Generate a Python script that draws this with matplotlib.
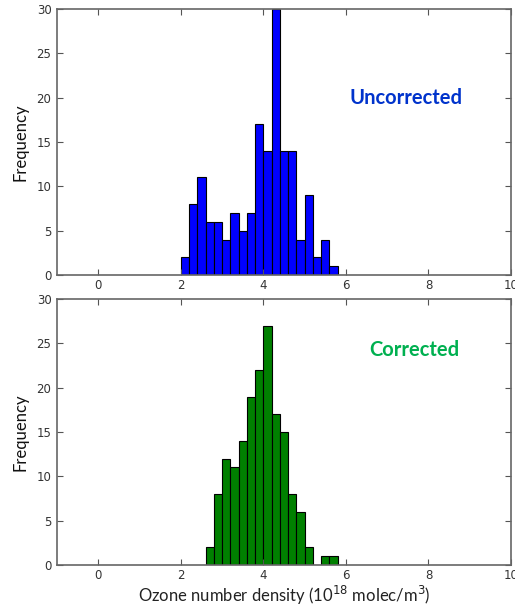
import matplotlib
matplotlib.use('Agg')
import matplotlib.pyplot as plt
import numpy as np

# histogram bins (left edges, 10^18 molec/m3) and counts
unc_left = [2.0, 2.2, 2.4, 2.6, 2.8, 3.0, 3.2, 3.4, 3.6, 3.8,
            4.0, 4.2, 4.4, 4.6, 4.8, 5.0, 5.2, 5.4, 5.6]
unc_count = [2, 8, 11, 6, 6, 4, 7, 5, 7, 17, 14, 30, 14, 14, 4, 9, 2, 4, 1]

cor_left = [2.6, 2.8, 3.0, 3.2, 3.4, 3.6, 3.8, 4.0, 4.2, 4.4,
            4.6, 4.8, 5.0, 5.2, 5.4, 5.6]
cor_count = [2, 8, 12, 11, 14, 19, 22, 27, 17, 15, 8, 6, 2, 0, 1, 1]

bin_w = 0.2
xticks = [0, 2, 4, 6, 8, 10]
yticks = [0, 5, 10, 15, 20, 25, 30]

fig = plt.figure(figsize=(5.15, 6.08), dpi=100)
ax1 = fig.add_axes([0.1107, 0.5477, 0.8816, 0.4375])
ax2 = fig.add_axes([0.1107, 0.0707, 0.8816, 0.4375])

lab_font = ['Lato', 'DejaVu Sans']

def style_ax(ax):
    ax.set_xlim(-1, 10)
    ax.set_ylim(0, 30)
    ax.set_xticks(xticks)
    ax.set_yticks(yticks)
    ax.tick_params(direction='in', top=True, right=True, length=4,
                   color='#555555', labelsize=8.5, labelcolor='#333333')
    ax.tick_params(axis='x', pad=3)
    ax.tick_params(axis='y', pad=4)
    for sp in ax.spines.values():
        sp.set_color('#666666')
        sp.set_linewidth(1.2)
    ax.set_ylabel('Frequency', fontsize=12, family=lab_font, color='#111111', labelpad=6)

ax1.bar(unc_left, unc_count, width=bin_w, align='edge', color='#0000ff',
        edgecolor='black', linewidth=0.8)
ax2.bar(cor_left, cor_count, width=bin_w, align='edge', color='#008000',
        edgecolor='black', linewidth=0.8)
style_ax(ax1)
style_ax(ax2)

ax1.text(0.768, 0.665, 'Uncorrected', transform=ax1.transAxes, ha='center', va='center',
         fontsize=14.5, fontweight='bold', color='#0033cc', family=lab_font)
ax2.text(0.788, 0.81, 'Corrected', transform=ax2.transAxes, ha='center', va='center',
         fontsize=14.5, fontweight='bold', color='#00b050', family=lab_font)

ax2.set_xlabel('Ozone number density (10$^{18}$ molec/m$^{3}$)', fontsize=12,
               family=lab_font, color='#222222', labelpad=1)

fig.savefig('out.png', dpi=100)
